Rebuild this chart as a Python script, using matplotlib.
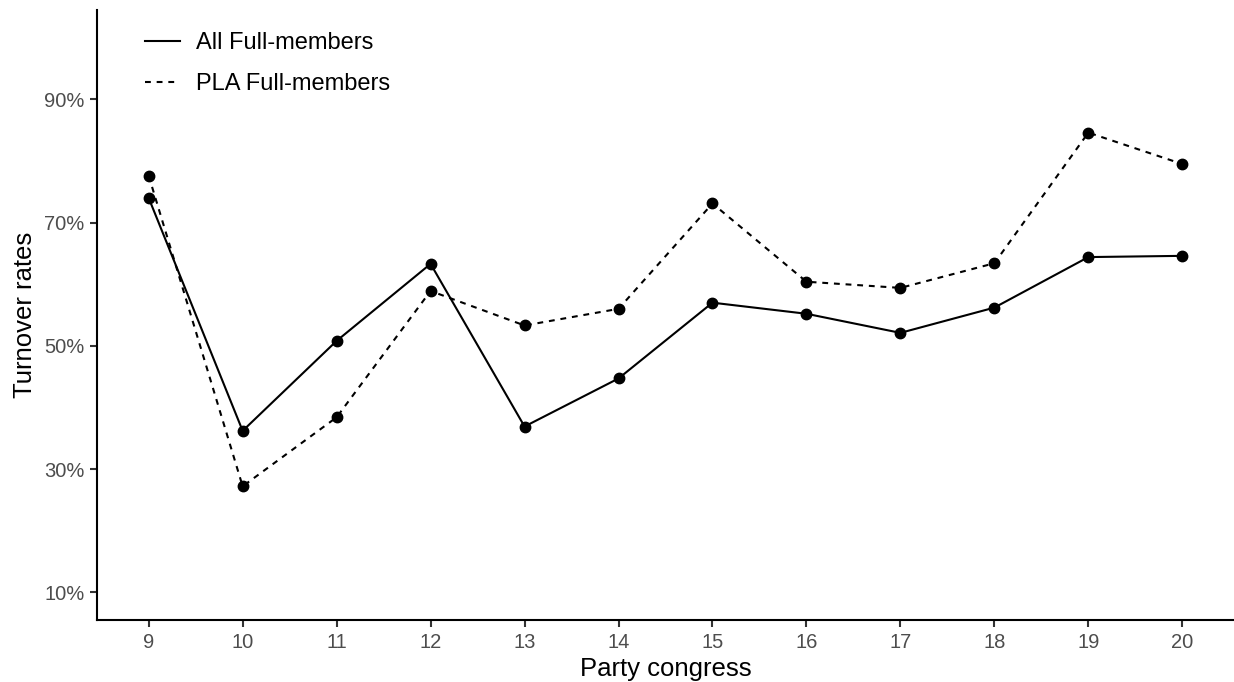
import matplotlib
matplotlib.use("Agg")
import matplotlib.pyplot as plt
from matplotlib.lines import Line2D
from matplotlib.ticker import FuncFormatter

plt.rcParams['font.family'] = ['Liberation Sans', 'DejaVu Sans']

congress = [9, 10, 11, 12, 13, 14, 15, 16, 17, 18, 19, 20]
all_full = [74.0, 36.2, 50.8, 63.3, 36.9, 44.7, 57.0, 55.2, 52.1, 56.2, 64.4, 64.6]
pla_full = [77.6, 27.2, 38.4, 58.9, 53.3, 56.0, 73.1, 60.4, 59.4, 63.4, 84.6, 79.5]
y_ticks = [10, 30, 50, 70, 90]
series_labels = ["All Full-members", "PLA Full-members"]

fig = plt.figure(figsize=(12.34, 6.82), dpi=100)
ax = fig.add_axes([97/1234, 62/682, 1 - 97/1234, (620-10)/682])

lw = 1.5
dash = (0, (2.8, 2.8))
ax.plot(congress, all_full, color='black', lw=lw, linestyle='-')
ax.plot(congress, pla_full, color='black', lw=lw, linestyle=dash)
ax.plot(congress, all_full, 'o', color='black', ms=7.5, lw=0)
ax.plot(congress, pla_full, 'o', color='black', ms=7.5, lw=0)

ax.set_xlim(8.45, 20.55)
ax.set_ylim(5.5, 104.5)
ax.set_xticks(congress)
ax.set_yticks(y_ticks)
ax.yaxis.set_major_formatter(FuncFormatter(lambda v, p: f"{int(v)}%"))

for s in ['top', 'right']:
    ax.spines[s].set_visible(False)
for s in ['left', 'bottom']:
    ax.spines[s].set_linewidth(1.5)
ax.tick_params(axis='both', length=5, width=1.5, color='#333333',
               labelsize=14.5, labelcolor='#4D4D4D', pad=4)

ax.set_xlabel("Party congress", fontsize=18.5, labelpad=4)
ax.set_ylabel("Turnover rates", fontsize=18.5, labelpad=5)

handles = [Line2D([], [], color='black', lw=lw, linestyle='-'),
           Line2D([], [], color='black', lw=lw, linestyle=dash)]
leg = ax.legend(handles, series_labels, loc='upper left',
                bbox_to_anchor=(145/1234, 1 - 32/682), bbox_transform=fig.transFigure,
                frameon=False, fontsize=17, handlelength=1.48,
                handletextpad=0.68, labelspacing=0.8, borderaxespad=0,
                borderpad=0)

fig.savefig("out.png", dpi=100)
